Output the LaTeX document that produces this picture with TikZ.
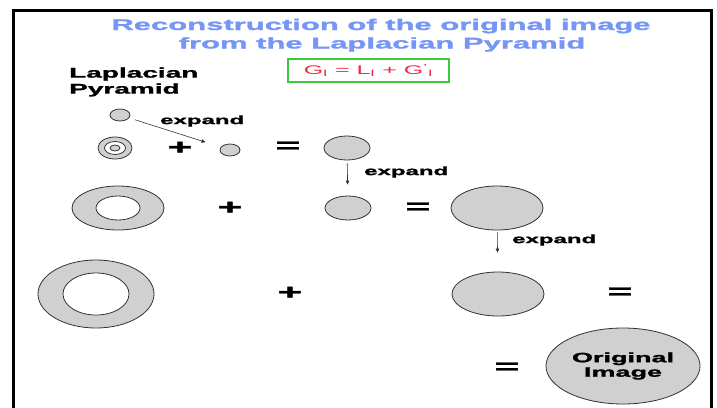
\documentclass[tikz,border=0pt]{standalone}
\usepackage{graphicx}
\usepackage{fontspec}
\setmainfont{Liberation Sans}[BoldFeatures={FakeBold=1.2}]
\usetikzlibrary{shapes.geometric,arrows.meta}
\definecolor{titleblue}{RGB}{118,150,245}
\definecolor{fmred}{RGB}{240,40,70}
\definecolor{boxgreen}{RGB}{60,200,60}
\definecolor{ellfill}{RGB}{208,208,208}
\newcommand\wideT[1]{\scalebox{2}[1]{#1}}
\tikzset{
  ell/.style={ellipse, draw=black!80, fill=ellfill, line width=0.8pt, inner sep=0pt},
  hole/.style={ellipse, draw=black!80, fill=white, line width=0.8pt, inner sep=0pt},
  ttl/.style={text=titleblue, font=\bfseries\fontsize{15.5}{18}\selectfont, inner sep=0pt, anchor=base},
  lbl/.style={font=\bfseries\fontsize{14}{15}\selectfont, inner sep=0pt, align=left},
  exptxt/.style={font=\bfseries\fontsize{12}{14}\selectfont, inner sep=0pt, anchor=west},
  op/.style={font=\bfseries\fontsize{21}{24}\selectfont, inner sep=0pt},
  arr/.style={-{Triangle[length=4pt,width=3.5pt]}, line width=0.6pt, draw=black!80},
}
\begin{document}
\begin{tikzpicture}[x=1pt,y=-1pt]
\useasboundingbox (0,0) rectangle (717,407);
% frame
\draw[line width=3pt] (13,412) -- (13,10) -- (711,10) -- (711,412);
% title
\node[ttl] (t1) at (381,30) {\wideT{Reconstruction of the original image}};
\node[ttl] (t2) at (382,48.5) {\wideT{from the Laplacian Pyramid}};
% label
\node[lbl, anchor=west] (lp) at (69,82) {\wideT{Laplacian}\\[1pt]\wideT{Pyramid}};
% formula box
\node[draw=boxgreen, line width=1.3pt, minimum width=161pt, minimum height=23pt, inner sep=0pt,
      text=fmred, font=\fontsize{12.5}{13}\selectfont] (fm) at (368.5,70.5)
  {\wideT{G\textsubscript{l} = L\textsubscript{l} + G\textsuperscript{'}\textsubscript{l}}};
% row 0
\node[ell, minimum width=20pt, minimum height=12pt] (g3) at (120,115) {};
\node[exptxt] (x0) at (160,121) {\wideT{expand}};
% row 1
\node[ell, minimum width=34pt, minimum height=22pt] (r1o) at (115,148) {};
\node[hole, minimum width=21pt, minimum height=13pt] (r1m) at (115,148) {};
\node[ell, minimum width=10pt, minimum height=6pt] (r1i) at (115,148) {};
\node[op] (p1) at (180,148) {\wideT{+}};
\node[ell, minimum width=20pt, minimum height=12pt] (e1) at (230,150) {};
\node[op] (q1) at (288,147) {\wideT{=}};
\node[ell, minimum width=46pt, minimum height=24pt] (s1) at (347,148) {};
% row 2
\node[exptxt] (x1) at (364,172) {\wideT{expand}};
\node[ell, minimum width=92pt, minimum height=44pt] (r2o) at (118,208) {};
\node[hole, minimum width=44pt, minimum height=24pt] (r2i) at (118,208) {};
\node[op] (p2) at (230,208) {\wideT{+}};
\node[ell, minimum width=46pt, minimum height=24pt] (e2) at (348,208) {};
\node[op] (q2) at (418,208) {\wideT{=}};
\node[ell, minimum width=92pt, minimum height=44pt] (s2) at (497,208) {};
% row 3
\node[exptxt] (x2) at (512,240) {\wideT{expand}};
\node[ell, minimum width=116pt, minimum height=68pt] (r3o) at (96,294) {};
\node[hole, minimum width=66pt, minimum height=42pt] (r3i) at (96,294) {};
\node[op] (p3) at (290,293) {\wideT{+}};
\node[ell, minimum width=92pt, minimum height=44pt] (e3) at (498,294) {};
\node[op] (q3) at (620,293) {\wideT{=}};
% row 4
\node[op] (q4) at (507,368) {\wideT{=}};
\node[ell, minimum width=154pt, minimum height=76pt, align=center,
      font=\bfseries\fontsize{13.5}{14.5}\selectfont] (orig) at (623,366)
  {\wideT{Original}\\\wideT{Image}};
% arrows
\draw[arr, shorten <=6pt, shorten >=16pt] (g3) -- (e1);
\draw[arr, shorten <=3pt, shorten >=11pt] (s1) -- (e2);
\draw[arr, shorten <=2pt, shorten >=19pt] (s2) -- (e3);
\end{tikzpicture}
\end{document}
